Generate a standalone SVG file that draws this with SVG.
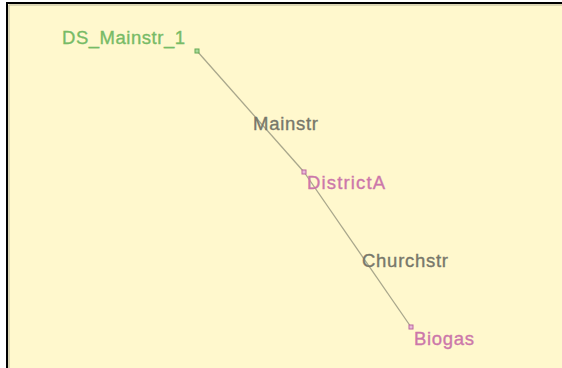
<svg xmlns="http://www.w3.org/2000/svg" width="562" height="368" viewBox="0 0 562 368">
<style>
text{font-family:"Liberation Sans",Arial,sans-serif;font-size:18.5px;stroke-width:0.35;}
.edge{stroke:#A9A78C;stroke-width:1.3;fill:none;}
.el{fill:#77776A;stroke:#77776A;}
.g{fill:#77BB66;stroke:#77BB66;}
.p{fill:#CC77AA;stroke:#CC77AA;}
.ng{fill:#A8D89A;stroke:#66AA55;stroke-width:1;}
.np{fill:#E8B8D8;stroke:#BB66A0;stroke-width:1;}
</style>
<rect x="0" y="0" width="562" height="368" fill="#FFFFFF"/>
<rect x="7" y="3" width="560" height="370" fill="#FFF8CD"/>
<path d="M7,368 V3 H562" fill="none" stroke="#000" stroke-width="2"/>
<path d="M9,368 V5 H562" fill="none" stroke="#B8B49A" stroke-width="1"/>
<g id="connectors">
<line class="edge" x1="197" y1="51" x2="304" y2="172"/>
<line class="edge" x1="304" y1="172" x2="411" y2="327"/>
<text class="el" x="253" y="130" textLength="65" lengthAdjust="spacing">Mainstr</text>
<text class="el" x="362" y="267" textLength="86" lengthAdjust="spacing">Churchstr</text>
</g>
<g id="DS_Mainstr_1">
<rect class="ng" x="195" y="49" width="4" height="4"/>
<text class="g" x="62" y="44" textLength="123" lengthAdjust="spacing">DS_Mainstr_1</text>
</g>
<g id="DistrictA">
<rect class="np" x="302" y="170" width="4" height="4"/>
<text class="p" x="307" y="189" textLength="78" lengthAdjust="spacing">DistrictA</text>
</g>
<g id="Biogas">
<rect class="np" x="409" y="325" width="4" height="4"/>
<text class="p" x="414" y="345" textLength="60" lengthAdjust="spacing">Biogas</text>
</g>
</svg>
